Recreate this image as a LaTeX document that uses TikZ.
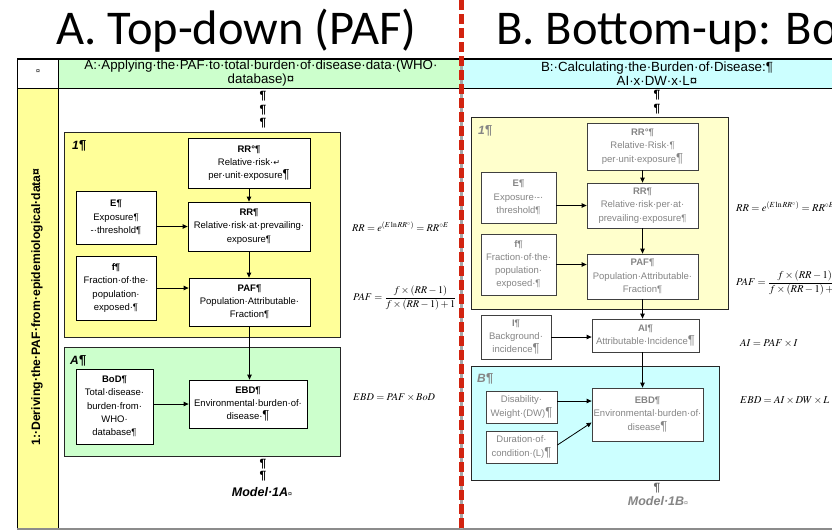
\documentclass[tikz,border=0pt]{standalone}
\usepackage{mathptmx}
\usepackage[no-math]{fontspec}
\setmainfont{Liberation Sans}
\newfontfamily\calib{Carlito}
\newfontfamily\dejavu{DejaVu Sans}
\usetikzlibrary{arrows.meta}
\definecolor{yelA}{HTML}{FFFF99}
\definecolor{yelB}{HTML}{FFFFCC}
\definecolor{grn}{HTML}{CCFFCC}
\definecolor{cyn}{HTML}{CCFFFF}
\definecolor{redd}{RGB}{210,35,15}
\definecolor{faded}{HTML}{858585}
\newcommand\BigPil{{\fontsize{13}{10}\selectfont ¶}}
\tikzset{
  box/.style={draw=black, fill=white, line width=0.8pt, inner sep=1pt, align=center,
    font=\fontsize{9.5}{13.3}\selectfont},
  boxB/.style={box, draw=black!75, text=faded},
  grp/.style={draw=black!85, line width=0.9pt, inner sep=0pt},
  arr/.style={-{Triangle[length=5pt,width=4.5pt]}, line width=0.8pt},
  pil/.style={inner sep=0pt, font=\bfseries\fontsize{12}{12}\selectfont},
  grplab/.style={anchor=west, inner sep=0pt, font=\bfseries\itshape\fontsize{12}{12}\selectfont},
  model/.style={inner sep=0pt, font=\bfseries\itshape\fontsize{12.5}{13}\selectfont},
  eq/.style={anchor=west, inner sep=0pt, font=\fontsize{10.3}{12}\selectfont},
  eqB/.style={eq, font=\fontsize{10.5}{12}\selectfont},
  title/.style={anchor=base west, inner sep=0pt, font=\calib\fontsize{48.5}{48.5}\selectfont},
  head/.style={align=center, inner sep=0pt, font=\fontsize{13.3}{14}\selectfont}
}
\begin{document}
\begin{tikzpicture}[x=1pt,y=-1pt]
\useasboundingbox (0,0) rectangle (832,531);
\clip (0,0) rectangle (832,531);
\fill[white] (0,0) rectangle (832,531);
% titles
\node[title] (titA) at (56,44) {A. Top-down (PAF)};
\node[title] (titB) at (496,44) {B. Bottom-up: Bo};
% table fills
\fill[grn] (58,59) rectangle (461,88);
\fill[cyn] (461,59) rectangle (840,88);
\fill[yelA] (17,88) rectangle (58,529);
% table lines
\draw[line width=1.3pt] (17,59) -- (840,59);
\draw[line width=1pt] (17,88) -- (840,88);
\draw[line width=1pt] (17,59) -- (17,529);
\draw[line width=1pt] (58,59) -- (58,529);
\draw[line width=1.3pt, black!45] (17,529) -- (840,529);
% header texts
\node[font=\fontsize{7}{8}\selectfont, inner sep=0pt] (hd1) at (38,72) {¤};
\node[head] (hdA) at (261,73.5) {A:·Applying·the·PAF·to·total·burden·of·disease·data·(WHO·\\database)¤};
\node[head] (hdB) at (657,73.5) {B:·Calculating·the·Burden·of·Disease:¶\\AI·x·DW·x·L¤};
\node[rotate=90, inner sep=0pt, font=\bfseries\fontsize{12.2}{14}\selectfont] (row1) at (37,307) {1:·Deriving·the·PAF·from·epidemiological·data¤};
% pilcrows top
\node[pil] (pa1) at (263,96) {¶};
\node[pil] (pa2) at (263,110) {¶};
\node[pil] (pa3) at (263,123) {¶};
\node[pil] (pb1) at (657,95) {¶};
\node[pil] (pb2) at (657,109) {¶};
% ---------------- A side ----------------
\node[grp, fill=yelA, minimum width=276pt, minimum height=205pt] (grp1A) at (202,234.5) {};
\node[grplab] (lab1A) at (72,146) {1\BigPil};
\node[box, minimum width=122pt, minimum height=50pt] (RRoA) at (249,163) {\textbf{RR°¶}\\Relative·risk·{\dejavu\fontsize{8}{8}\selectfont ↵}\\per·unit·exposure\BigPil};
\node[box, minimum width=80pt, minimum height=53pt] (EA) at (116,217.5) {\textbf{E¶}\\Exposure¶\\-·threshold¶};
\node[box, minimum width=122pt, minimum height=49pt] (RRA) at (249,226.5) {\textbf{RR¶}\\Relative·risk·at·prevailing·\\exposure¶};
\node[box, minimum width=80pt, minimum height=64pt] (fA) at (116,288) {\textbf{f¶}\\Fraction·of·the·\\population·\\exposed·¶};
\node[box, minimum width=121pt, minimum height=48pt] (PAFA) at (249.5,302) {\textbf{PAF¶}\\Population·Attributable·\\Fraction¶};
\node[grp, fill=grn, minimum width=276pt, minimum height=109pt] (grpAA) at (202,401.5) {};
\node[grplab] (labAA) at (70,361) {A\BigPil};
\node[box, minimum width=77pt, minimum height=75pt] (BoDA) at (114.5,406.5) {\textbf{BoD¶}\\Total·disease·\\burden·from·\\WHO·\\database¶};
\node[box, minimum width=118pt, minimum height=48pt] (EBDA) at (248,404) {\textbf{EBD¶}\\Environmental·burden·of·\\disease·\BigPil};
\draw[arr] (RRoA.south) -- (RRA.north);
\draw[arr] (EA.east |- RRA.west) -- (RRA.west);
\draw[arr] (RRA.south) -- (RRA.south |- PAFA.north);
\draw[arr] (fA.east) -- (fA.east -| PAFA.west);
\draw[arr] (PAFA.south) -- (PAFA.south |- EBDA.north);
\draw[arr] (EBDA.west -| BoDA.east) -- (EBDA.west);
\node[eq] (eqRRA) at (352,227) {$RR=e^{(E\ln RR^{\circ})}=RR^{\circ E}$};
\node[eq] (eqPAFA) at (353,298) {$PAF=\displaystyle\frac{f\times(RR-1)}{f\times(RR-1)+1}$};
\node[eq] (eqEBDA) at (353,397) {$EBD=PAF\times BoD$};
\node[pil] (pa4) at (263,464) {¶};
\node[pil] (pa5) at (263,476) {¶};
\node[model] (modA) at (262,492) {Model·1A{\normalfont\fontsize{7}{7}\selectfont ¤}};
% ---------------- B side ----------------
\node[grp, fill=yelB, minimum width=257pt, minimum height=192pt] (grp1B) at (599.5,213) {};
\node[grplab, text=faded] (lab1B) at (478,131) {1\BigPil};
\node[boxB, minimum width=111pt, minimum height=47pt] (RRoB) at (642.5,146.5) {\textbf{RR°¶}\\Relative·Risk·¶\\per·unit·exposure\BigPil};
\node[boxB, minimum width=75pt, minimum height=51pt] (EB) at (518.5,197.5) {\textbf{E¶}\\Exposure·-·\\threshold¶};
\node[boxB, minimum width=111pt, minimum height=45pt] (RRB) at (642.5,205.5) {\textbf{RR¶}\\Relative·risk·per·at·\\prevailing·exposure¶};
\node[boxB, minimum width=75pt, minimum height=61pt] (fB) at (518.5,264.5) {\textbf{f¶}\\Fraction·of·the·\\population·\\exposed·¶};
\node[boxB, minimum width=111pt, minimum height=45pt] (PAFB) at (642.5,276.5) {\textbf{PAF¶}\\Population·Attributable·\\Fraction¶};
\node[boxB, minimum width=70pt, minimum height=44pt] (IB) at (516,337) {\textbf{I¶}\\Background·\\incidence\BigPil};
\node[boxB, minimum width=107pt, minimum height=33pt] (AIB) at (645.5,335.5) {\textbf{AI¶}\\Attributable·Incidence\BigPil};
\node[grp, fill=cyn, minimum width=248pt, minimum height=114pt] (grpBB) at (595,423) {};
\node[grplab, text=faded] (labBB) at (477,379) {B\BigPil};
\node[boxB, minimum width=71pt, minimum height=32pt] (DWB) at (521.5,407) {Disability·\\Weight·(DW)\BigPil};
\node[boxB, minimum width=71pt, minimum height=32pt] (LB) at (521.5,447) {Duration·of·\\condition·(L)\BigPil};
\node[boxB, minimum width=111pt, minimum height=53pt] (EBDB) at (647.5,414.5) {\textbf{EBD¶}\\Environmental·burden·of·\\disease\BigPil};
\draw[arr] (RRoB.south) -- (RRB.north);
\draw[arr] (EB.east |- RRB.west) -- (RRB.west);
\draw[arr] (RRB.south) -- (PAFB.north);
\draw[arr] (fB.east) -- (fB.east -| PAFB.west);
\draw[arr] (PAFB.south) -- (PAFB.south |- AIB.north);
\draw[arr] (IB.east) -- (IB.east -| AIB.west);
\draw[arr] (PAFB.south |- AIB.south) -- (PAFB.south |- EBDB.north);
\draw[arr] ([yshift=6pt]DWB.east) -- ([yshift=6pt]DWB.east -| EBDB.west);
\draw[arr] ([yshift=2pt]LB.east) -- ([yshift=-8pt]EBDB.west);
\node[eqB] (eqRRB) at (736,207) {$RR=e^{(E\ln RR^{\circ})}=RR^{\circ E}$};
\node[eqB] (eqPAFB) at (736,283) {$PAF=\displaystyle\frac{f\times(RR-1)}{f\times(RR-1)+1}$};
\node[eqB] (eqAIB) at (740,343) {$AI=PAF\times I$};
\node[eqB] (eqEBDB) at (740,400) {$EBD=AI\times DW\times L$};
\node[pil, text=faded!80!black] (pb3) at (657,488) {¶};
\node[model, text=faded] (modB) at (658,501) {Model·1B{\normalfont\fontsize{7}{7}\selectfont ¤}};
% red dashed divider
\draw[line width=3pt, black!35] (461,59) -- (461,529);
\draw[line width=5pt, redd, dash pattern=on 10pt off 4pt] (461,0) -- (461,531);
\end{tikzpicture}
\end{document}
